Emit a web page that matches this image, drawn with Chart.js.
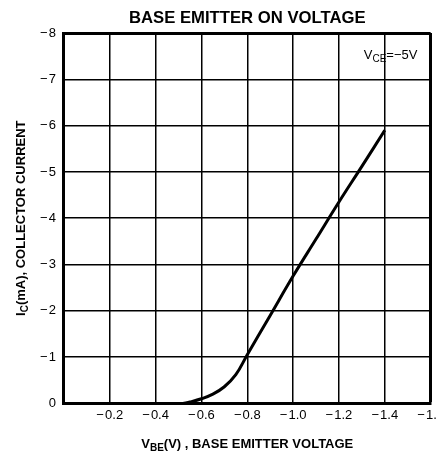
<!DOCTYPE html>
<html>
<head>
<meta charset="utf-8">
<script src="https://cdn.jsdelivr.net/npm/chart.js@4"></script>
<style>
  html, body { margin: 0; padding: 0; background: #fff; overflow: hidden; }
  #wrap { width: 448px; height: 456px; }
</style>
</head>
<body>
<div id="wrap"><canvas id="myChart"></canvas></div>
<script>
// V_BE (V) and collector current I_C (mA)
const vbe = [-0.52, -0.55, -0.6, -0.65, -0.7, -0.75, -0.8, -0.9, -1.0, -1.1, -1.2, -1.3, -1.4];
const ic = [0, -0.03, -0.1, -0.2, -0.36, -0.62, -1.05, -1.9, -2.75, -3.55, -4.35, -5.12, -5.9];
const xTicks = [0, -0.2, -0.4, -0.6, -0.8, -1.0, -1.2, -1.4, -1.6];
const yTicks = [0, -1, -2, -3, -4, -5, -6, -7, -8];

const FONT = "'Liberation Sans', Arial, sans-serif";
const minus = (v, digits) => (v === 0 ? "0" : "\u2212\u200a" + Math.abs(v).toFixed(digits));

// draws text made of pieces, some of them subscripts, centred on x
function drawPieces(ctx, pieces, x, y) {
  let total = 0;
  pieces.forEach((p) => {
    ctx.font = p.font;
    p.w = ctx.measureText(p.text).width;
    total += p.w;
  });
  let cx = x - total / 2;
  pieces.forEach((p) => {
    ctx.font = p.font;
    ctx.fillText(p.text, cx, y + (p.dy || 0));
    cx += p.w;
  });
}

const labels = {
  id: "labels",
  afterDraw(chart) {
    const { ctx, chartArea: a } = chart;
    ctx.save();
    ctx.fillStyle = "#000";
    ctx.textBaseline = "alphabetic";
    ctx.textAlign = "left";
    const cx = (a.left + a.right) / 2;

    drawPieces(ctx, [
      { text: "V", font: "bold 13px " + FONT },
      { text: "BE", font: "bold 10px " + FONT, dy: 3 },
      { text: "(V) , BASE EMITTER VOLTAGE", font: "bold 13px " + FONT },
    ], cx, 448);

    ctx.save();
    ctx.translate(25, (a.top + a.bottom) / 2);
    ctx.rotate(-Math.PI / 2);
    drawPieces(ctx, [
      { text: "I", font: "bold 13px " + FONT },
      { text: "C", font: "bold 10px " + FONT, dy: 3 },
      { text: "(mA), COLLECTOR CURRENT", font: "bold 13px " + FONT },
    ], 0, 0);
    ctx.restore();

    drawPieces(ctx, [
      { text: "V", font: "13px " + FONT },
      { text: "CE", font: "10px " + FONT, dy: 3 },
      { text: "=\u22125V", font: "13px " + FONT },
    ], a.right - 40, a.top + 26);
    ctx.restore();
  },
};

const edge = (ctx, limit) => (ctx.tick && Math.abs(ctx.tick.value - limit) < 1e-6 ? 3 : 1.5);

new Chart(document.getElementById("myChart"), {
  type: "line",
  data: {
    datasets: [
      {
        data: vbe.map((v, i) => ({ x: v, y: ic[i] })),
        borderColor: "#000",
        borderWidth: 3,
        pointRadius: 0,
        tension: 0.4,
        fill: false,
      },
    ],
  },
  options: {
    responsive: true,
    maintainAspectRatio: false,
    animation: false,
    layout: { padding: { left: 32, top: 6, bottom: 29, right: 0 } },
    plugins: {
      legend: { display: false },
      tooltip: { enabled: false },
      title: {
        display: true,
        fullSize: false,
        text: "BASE EMITTER ON VOLTAGE",
        color: "#000",
        font: { family: FONT, size: 16.7, weight: "bold" },
        padding: { top: 2, bottom: 5 },
      },
    },
    scales: {
      x: {
        type: "linear",
        reverse: true,
        min: -1.6,
        max: 0,
        afterBuildTicks: (s) => { s.ticks = xTicks.map((v) => ({ value: v })); },
        ticks: {
          color: "#000",
          font: { family: FONT, size: 13 },
          padding: 4,
          maxRotation: 0,
          callback: (v) => (v === 0 ? "" : minus(v, 1)),
        },
        grid: { color: "#000", lineWidth: (c) => edge(c, -1.6), drawTicks: false },
        border: { color: "#000", width: 3 },
      },
      y: {
        type: "linear",
        reverse: true,
        min: -8,
        max: 0,
        afterBuildTicks: (s) => { s.ticks = yTicks.map((v) => ({ value: v })); },
        ticks: {
          color: "#000",
          font: { family: FONT, size: 13 },
          padding: 8,
          callback: (v) => minus(v, 0),
        },
        grid: { color: "#000", lineWidth: (c) => edge(c, -8), drawTicks: false },
        border: { color: "#000", width: 3 },
      },
    },
  },
  plugins: [labels],
});
</script>
</body>
</html>
